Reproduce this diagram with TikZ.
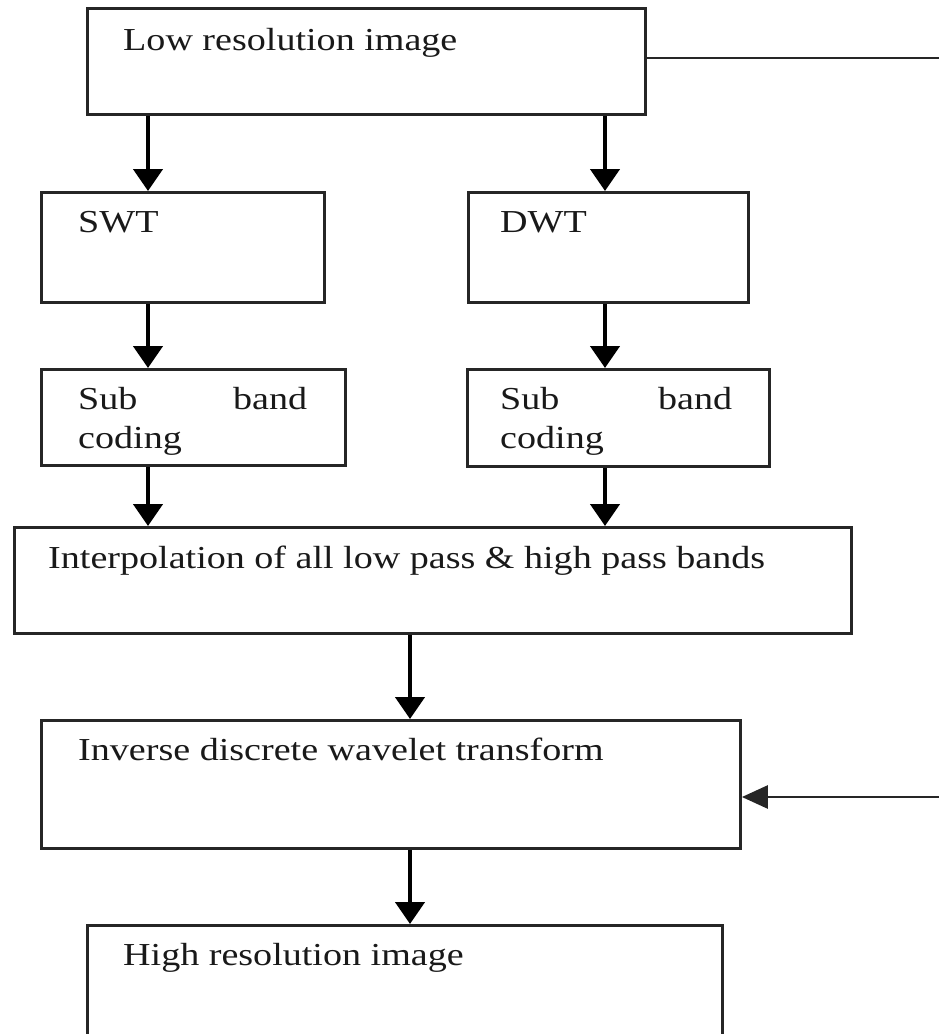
\documentclass[tikz,border=0pt]{standalone}
\usepackage{fontspec}
\setmainfont[FakeStretch=1.19]{Liberation Serif}
\usetikzlibrary{arrows.meta}
\begin{document}
\begin{tikzpicture}[x=1pt,y=-1pt,
  box/.style={draw=black!85, line width=2.9pt, inner sep=0pt, anchor=north west},
  txt/.style={anchor=base west, inner sep=0pt, text=black!90, font=\fontsize{32}{39}\selectfont},
  arr/.style={draw=black, line width=4.5pt, -{Triangle[length=22pt,width=29pt]}},
  fb/.style={draw=black!85, line width=2.8pt, -{Triangle[length=26pt,width=23pt]}}]
\useasboundingbox (0,0) rectangle (939,1034);
\fill[white] (0,0) rectangle (939,1034);
\clip (0,0) rectangle (939,1034);

% boxes
\node[box, minimum width=558pt, minimum height=106pt] (low) at (86,7) {};
\node[box, minimum width=283pt, minimum height=110pt] (swt) at (40,191) {};
\node[box, minimum width=280pt, minimum height=110pt] (dwt) at (467,191) {};
\node[box, minimum width=304pt, minimum height=96pt] (subL) at (40,368) {};
\node[box, minimum width=302pt, minimum height=97pt] (subR) at (466,368) {};
\node[box, minimum width=837pt, minimum height=106pt] (interp) at (13,526) {};
\node[box, minimum width=699pt, minimum height=128pt] (idwt) at (40,719) {};
\node[box, minimum width=635pt, minimum height=125pt] (hr) at (86,924) {};

% texts
\node[txt] (tlow) at (123,50) {Low resolution image};
\node[txt] (tswt) at (78,232) {SWT};
\node[txt] (tdwt) at (500,232) {DWT};
\node[txt] (tsubL1) at (78,409) {\hbox to 229pt{Sub\hfill band}};
\node[txt] (tsubL2) at (78,448) {coding};
\node[txt] (tsubR1) at (500,409) {\hbox to 232pt{Sub\hfill band}};
\node[txt] (tsubR2) at (500,448) {coding};
\node[txt] (tinterp) at (48,568) {Interpolation of all low pass \& high pass bands};
\node[txt] (tidwt) at (78,760) {Inverse discrete wavelet transform};
\node[txt] (thr) at (123,965) {High resolution image};

% connector columns
\coordinate (cL) at (148,0);
\coordinate (cR) at (605,0);
\coordinate (cM) at (410,0);
\coordinate (fbx) at (965,0);

% arrows
\draw[arr] (low.south -| cL) -- (swt.north -| cL);
\draw[arr] (low.south -| cR) -- (dwt.north -| cR);
\draw[arr] (swt.south -| cL) -- (subL.north -| cL);
\draw[arr] (dwt.south -| cR) -- (subR.north -| cR);
\draw[arr] (subL.south -| cL) -- (interp.north -| cL);
\draw[arr] (subR.south -| cR) -- (interp.north -| cR);
\draw[arr] (interp.south -| cM) -- (idwt.north -| cM);
\draw[arr] (idwt.south -| cM) -- (hr.north -| cM);

% feedback connector
\coordinate (fbtop) at (fbx |- 0,58);
\coordinate (fbbot) at (fbx |- 0,797);
\draw[fb] (low.east |- fbtop) -- (fbtop) -- (fbbot) -- (idwt.east |- fbbot);
\end{tikzpicture}
\end{document}
